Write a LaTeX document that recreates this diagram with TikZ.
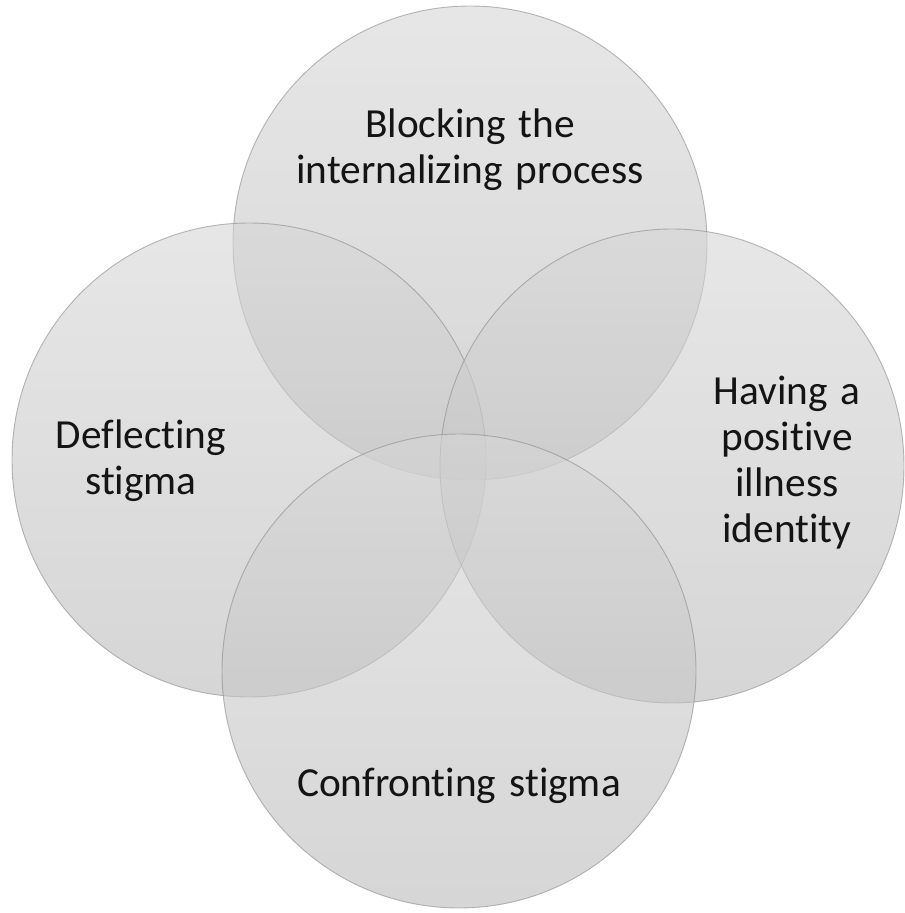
\documentclass[tikz,border=0pt]{standalone}
\usepackage{fontspec}
\setmainfont{Carlito}[Ligatures=NoCommon,WordSpace=1.4]
\usepackage{tikz}
\usepackage{xcolor}
\usetikzlibrary{positioning,shapes.geometric}
\definecolor{ringedge}{HTML}{8C8C8C}
\definecolor{inktext}{HTML}{141414}

\begin{document}
\begin{tikzpicture}[x=0.75pt,y=-0.75pt,
    ring/.style={ellipse,minimum width=355.5pt,minimum height=355.5pt,inner sep=0pt,
      draw=ringedge,line width=0.7pt,draw opacity=0.6,
      top color=black!16,bottom color=black!27,fill opacity=0.6},
    tagtext/.style={align=center,text=inktext,font=\fontsize{31}{34.5}\selectfont}]
  \useasboundingbox (0,0) rectangle (905,913);
  % four overlapping discs
  \node[ring] (block) at (470,243) {};
  \node[ring] (deflect) at (249,460) {};
  \node[ring,minimum width=348pt] (positive) at (672,466) {};
  \node[ring] (confront) at (459,671) {};
  % captions
  \node[tagtext] (blocktxt) at (470,150) {Blocking the\\internalizing process};
  \node[tagtext] (deflecttxt) at (141,461) {Deflecting\\stigma};
  \node[tagtext] (positivetxt) at (787,463) {Having a\\positive\\illness\\identity};
  \node[tagtext] (confronttxt) at (459,786) {Confronting stigma};
\end{tikzpicture}
\end{document}
